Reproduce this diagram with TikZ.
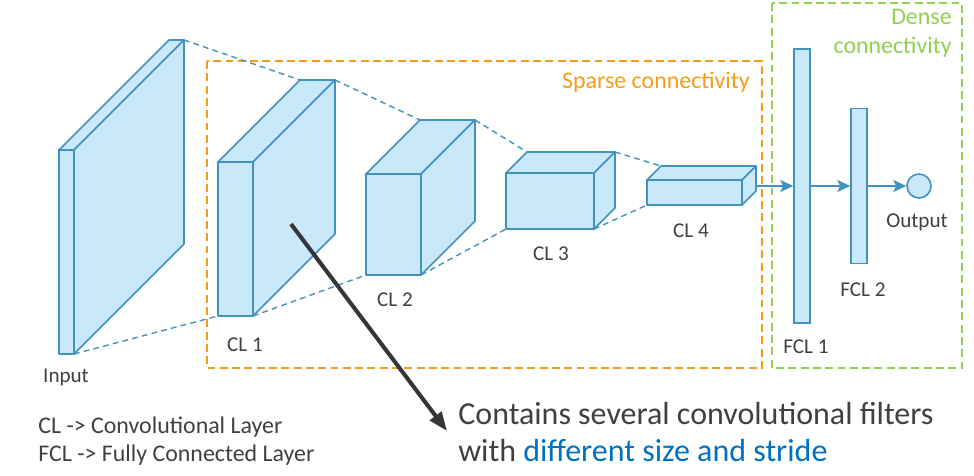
\documentclass[tikz,border=0pt]{standalone}
\usepackage{fontspec}
\setmainfont{Carlito}
\usetikzlibrary{arrows.meta}

\definecolor{layerfill}{RGB}{201,233,250}
\definecolor{layerline}{RGB}{66,146,190}
\definecolor{sparseorange}{RGB}{245,157,26}
\definecolor{densegreen}{RGB}{146,208,80}
\definecolor{labelgray}{RGB}{64,64,64}
\definecolor{noteblue}{RGB}{0,112,192}

% one convolutional block drawn as a cuboid
% #1 name, #2 x, #3 y (front top left), #4 width, #5 height, #6 depth
\newcommand{\convblock}[6]{%
  \draw[blockface] (#2,#3) rectangle ++(#4,#5);
  \draw[blockface] (#2,#3) -- ++(#6,-#6) -- ++(#4,0) -- ++(-#6,#6) -- cycle;
  \draw[blockface] ({#2+#4},#3) -- ++(#6,-#6) -- ++(0,#5) -- ++(-#6,#6) -- cycle;
  \coordinate (#1-btl) at ({#2+#6},{#3-#6});
  \coordinate (#1-btr) at ({#2+#4+#6},{#3-#6});
  \coordinate (#1-fbl) at (#2,{#3+#5});
  \coordinate (#1-fbr) at ({#2+#4},{#3+#5});
}

\tikzset{
  blockface/.style={draw=layerline, fill=layerfill, line width=0.9pt, line join=round},
  fcbar/.style={draw=layerline, fill=layerfill, line width=0.9pt, inner sep=0pt,
    minimum width=3.2mm},
  linkline/.style={draw=layerline, line width=0.8pt, dash pattern=on 3.3pt off 2.4pt},
  flowarrow/.style={draw=layerline, line width=0.9pt,
    -{Stealth[length=2.6mm, width=2.4mm, inset=0.6mm]}},
  layerlabel/.style={text=labelgray, font=\fontsize{12}{14}\selectfont},
  groupbox/.style={line width=1.1pt, dash pattern=on 4.5pt off 2.5pt},
}

\begin{document}
\begin{tikzpicture}[x=0.2mm, y=-0.2mm]
    \useasboundingbox (0,0) rectangle (974,475);

    % Groups
    \draw[groupbox, sparseorange] (207,61) rectangle (762,368);
    \draw[groupbox, densegreen] (772,3) rectangle (962,368);
    \node[text=sparseorange, font=\fontsize{13.6}{16.5}\selectfont] (sparse) at (656,82) {Sparse connectivity};
    \node[text=densegreen, font=\fontsize{13.6}{16.5}\selectfont, align=right, anchor=east, inner sep=0pt]
        (dense) at (952,33) {Dense\\connectivity};

    % Input and convolutional layers
    \convblock{input}{59}{150}{15}{204}{110}
    \convblock{cl1}{218}{162}{35}{154}{82}
    \convblock{cl2}{366}{174}{55}{101}{54}
    \convblock{cl3}{506}{173}{88}{56}{21}
    \convblock{cl4}{647}{180}{95}{25}{14}

    % Receptive field lines
    \draw[linkline] (input-btr) -- (cl1-btl);
    \draw[linkline] (input-fbr) -- (cl1-fbl);
    \draw[linkline] (cl1-btr) -- (cl2-btl);
    \draw[linkline] (cl1-fbr) -- (cl2-fbl);
    \draw[linkline] (cl2-btr) -- (cl3-btl);
    \draw[linkline] (cl2-fbr) -- (cl3-fbl);
    \draw[linkline] (cl3-btr) -- (cl4-btl);
    \draw[linkline] (cl3-fbr) -- (cl4-fbl);

    % Fully connected layers
    \node[fcbar, minimum height=54.8mm] (fcl1) at (802,186) {};
    \node[fcbar, minimum height=31mm] (fcl2) at (859,186) {};
    \node[circle, draw=layerline, fill=layerfill, line width=0.9pt, inner sep=0pt,
        minimum size=4.8mm] (output) at (919,186) {};
    \coordinate (cl4-out) at (756,186);
    \draw[flowarrow] (cl4-out) -- (fcl1);
    \draw[flowarrow] (fcl1) -- (fcl2);
    \draw[flowarrow] (fcl2) -- (output);

    % Labels
    \node[layerlabel] (input-label) at (66,377) {Input};
    \node[layerlabel] (cl1-label) at (245,345) {CL 1};
    \node[layerlabel] (cl2-label) at (395,300) {CL 2};
    \node[layerlabel] (cl3-label) at (551,254) {CL 3};
    \node[layerlabel] (cl4-label) at (691,231) {CL 4};
    \node[layerlabel] (fcl1-label) at (806,347) {FCL 1};
    \node[layerlabel] (fcl2-label) at (863,290) {FCL 2};
    \node[layerlabel] (output-label) at (917,222) {Output};

    % Legend
    \node[text=labelgray, font=\fontsize{13.6}{16}\selectfont, align=left, anchor=west, inner sep=0pt]
        (legend) at (38,441) {CL -> Convolutional Layer\\FCL -> Fully Connected Layer};

    % Annotation
    \node[text=labelgray, font=\fontsize{18.2}{21}\selectfont, align=left, anchor=west, inner sep=0pt]
        (note) at (458,432) {Contains several convolutional filters\\with \textcolor{noteblue}{different size and stride}};
    \coordinate (cl1-mark) at (291,224);
    \coordinate (note-tip) at (447,431);
    \draw[line width=2.3pt, draw=labelgray!85!black, -{Triangle[length=3.8mm, width=2.8mm]}] (cl1-mark) -- (note-tip);
\end{tikzpicture}
\end{document}
